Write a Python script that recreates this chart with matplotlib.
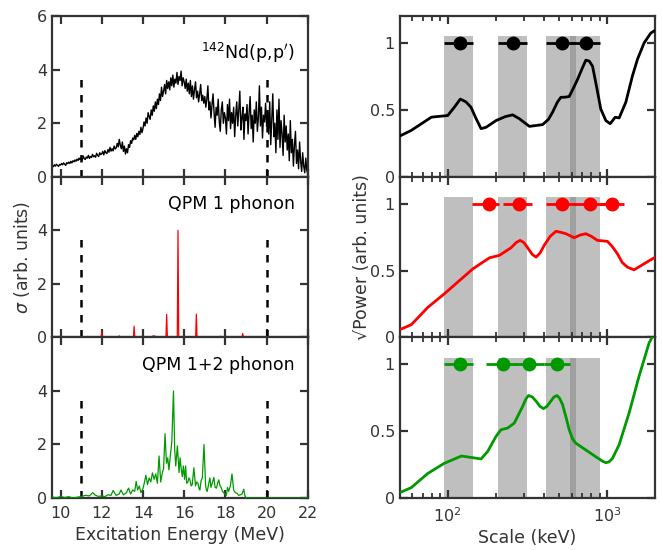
import numpy as np
import matplotlib
matplotlib.use('Agg')
from matplotlib import pyplot as plt

# %% data
# 142Nd(p,p') spectrum, 0.05 MeV steps from 9.6 MeV
nd_e0, nd_step = 9.6, 0.05
nd_counts = [
    0.42, 0.38, 0.45, 0.40, 0.47, 0.43, 0.39, 0.46,
    0.44, 0.50, 0.45, 0.52, 0.47, 0.43, 0.53, 0.49, 0.55, 0.50, 0.58, 0.52, 0.60, 0.56, 0.63, 0.58, 0.66, 0.61, 0.70, 0.64,
    0.72, 0.62, 0.78, 0.68, 0.65, 0.74, 0.70, 0.80, 0.69, 0.76, 0.72, 0.84, 0.75, 0.79, 0.73, 0.88, 0.80, 0.76, 0.90, 0.83,
    0.86, 0.95, 0.82, 0.98, 0.90, 0.87, 1.02, 0.92, 1.10, 0.96, 1.05, 0.97, 1.15, 1.04, 1.08, 1.25, 1.12, 1.40, 1.18, 1.05,
    1.30, 0.95, 1.15, 0.85, 1.05, 0.90, 1.20, 1.10, 1.35, 1.25, 1.45, 1.38, 1.55, 1.40, 1.62, 1.50, 1.70, 1.58, 1.85, 1.65,
    1.80, 2.05, 1.90, 2.20, 2.00, 2.40, 2.25, 2.15, 2.50, 2.30, 2.65, 2.45, 2.80, 2.55, 2.90, 2.70, 3.10, 2.85, 3.35, 3.00,
    3.20, 3.45, 3.10, 3.60, 3.30, 3.55, 3.25, 3.70, 3.40, 3.80, 3.35, 3.65, 3.50, 3.90, 3.45, 3.75, 3.60, 3.95, 3.40, 3.70,
    3.55, 3.30, 3.65, 3.20, 3.50, 3.10, 3.60, 3.00, 3.40, 2.90, 3.25, 3.55, 2.95, 3.20, 2.80, 3.10, 3.45, 2.85, 3.05, 2.75,
    3.00, 2.60, 2.90, 3.40, 2.50, 2.80, 2.20, 2.70, 3.10, 2.40, 1.85, 2.60, 2.30, 2.90, 2.10, 1.70, 2.50, 2.80, 2.00, 2.40,
    2.20, 1.60, 2.70, 2.10, 2.90, 1.80, 2.40, 2.00, 2.60, 1.50, 2.30, 2.80, 1.90, 2.50, 3.20, 1.75, 2.20, 2.60, 1.40, 2.35,
    2.10, 2.70, 1.60, 2.40, 3.00, 1.80, 2.30, 1.30, 2.50, 2.00, 2.80, 1.70, 2.20, 3.40, 1.90, 2.60, 1.45, 2.30, 2.05, 2.75,
    1.90, 2.40, 1.60, 2.80, 1.20, 2.20, 3.10, 1.50, 2.00, 0.90, 2.50, 1.40, 2.90, 1.10, 2.10, 1.60, 0.80, 2.30, 1.30, 1.90,
    1.00, 1.60, 0.60, 2.10, 0.90, 1.40, 0.40, 1.20, 1.70, 0.50, 1.00, 0.30, 1.30, 0.60, 0.20, 0.90, 0.40, 0.15, 0.70, 0.25,
    0.10,
]
nd_energy = nd_e0 + nd_step * np.arange(len(nd_counts))

# QPM 1 phonon: discrete states
qpm1_energy = [12.0, 12.85, 13.57, 14.50, 14.58, 15.15, 15.70, 16.59, 17.76, 18.84]
qpm1_sigma = [0.20, 0.06, 0.42, 0.07, 0.06, 0.86, 4.00, 0.87, 0.05, 0.15]

# QPM 1+2 phonon
qpm12_energy = [9.6, 9.8, 10.0, 10.2, 10.4, 10.6, 10.8, 11.0, 11.2, 11.4, 11.56, 11.7, 11.85, 12.0,
                12.15, 12.3, 12.45, 12.55, 12.7, 12.85, 12.93, 13.05, 13.2, 13.3, 13.4, 13.5, 13.6,
                13.67, 13.74, 13.82, 13.9, 14.0, 14.06, 14.14, 14.22, 14.3, 14.38, 14.46, 14.54, 14.62,
                14.7, 14.78, 14.86, 14.94, 15.0, 15.07, 15.14, 15.2, 15.26, 15.33, 15.40, 15.48, 15.54,
                15.59, 15.67, 15.75, 15.8, 15.86, 15.91, 15.96, 16.02, 16.07, 16.12, 16.18, 16.23, 16.28,
                16.34, 16.39, 16.47, 16.55, 16.61, 16.67, 16.72, 16.76, 16.82, 16.88, 16.96, 17.04, 17.08,
                17.12, 17.18, 17.25, 17.30, 17.36, 17.44, 17.5, 17.57, 17.62, 17.68, 17.74, 17.79, 17.86,
                17.92, 17.98, 18.05, 18.10, 18.16, 18.24, 18.32, 18.40, 18.48, 18.56, 18.64, 18.73, 18.81,
                18.89, 18.95, 19.01, 19.5, 20.0, 21.0, 22.0]
qpm12_sigma = [0.04, 0.0, 0.06, 0.02, 0.05, 0.0, 0.03, 0.05, 0.1, 0.08, 0.2, 0.1, 0.06, 0.08,
               0.05, 0.12, 0.1, 0.28, 0.1, 0.15, 0.3, 0.12, 0.2, 0.37, 0.15, 0.3, 0.25,
               0.62, 0.3, 0.45, 0.2, 0.35, 0.55, 0.85, 0.5, 0.75, 0.6, 0.94, 0.7, 0.9,
               0.55, 1.57, 0.6, 0.95, 1.1, 2.4, 1.3, 1.5, 1.05, 1.6, 2.1, 4.0, 1.8,
               1.2, 1.95, 0.95, 1.5, 1.06, 0.8, 1.2, 0.7, 1.2, 0.55, 0.6, 0.75, 0.68,
               0.45, 0.5, 1.13, 0.45, 0.6, 0.55, 0.35, 0.3, 0.65, 0.75, 2.0, 0.45, 0.3,
               0.25, 0.5, 0.75, 0.4, 0.55, 0.77, 0.4, 0.37, 0.55, 0.68, 0.45, 0.4, 0.25,
               0.2, 0.15, 0.1, 0.4, 0.25, 0.45, 0.9, 0.3, 0.2, 0.18, 0.1, 0.12, 0.15,
               0.33, 0.08, 0.0, 0.0, 0.0, 0.0, 0.0]

# wavelet power spectra
exp_scale = [51, 59, 79, 100, 110, 120, 130, 140, 150, 162, 174, 201, 230, 256, 282, 326, 395,
             430, 456, 490, 514, 545, 580, 615, 655, 700, 738, 775, 813, 860, 916, 986, 1050,
             1128, 1195, 1316, 1448, 1557, 1714, 1889, 1982]
exp_power = [0.31, 0.347, 0.446, 0.458, 0.52, 0.581, 0.56, 0.52, 0.44, 0.36, 0.37, 0.42, 0.45,
             0.463, 0.434, 0.377, 0.39, 0.43, 0.483, 0.56, 0.594, 0.595, 0.60, 0.66, 0.729, 0.81,
             0.872, 0.865, 0.827, 0.68, 0.507, 0.42, 0.397, 0.445, 0.44, 0.557, 0.753, 0.877,
             1.0, 1.074, 1.09]

qpm1_scale = [51, 59, 75, 95, 144, 183, 211, 250, 270, 285, 300, 318, 340, 359, 380, 404, 440,
              479, 515, 553, 623, 680, 738, 800, 873, 1009, 1080, 1166, 1250, 1347, 1483, 1714,
              1982]
qpm1_power = [0.063, 0.095, 0.225, 0.325, 0.513, 0.595, 0.613, 0.67, 0.71, 0.725, 0.71, 0.67,
              0.62, 0.60, 0.63, 0.688, 0.755, 0.793, 0.785, 0.775, 0.745, 0.765, 0.775, 0.755,
              0.725, 0.718, 0.68, 0.625, 0.56, 0.525, 0.505, 0.55, 0.595]

qpm12_scale = [51, 59, 75, 95, 122, 162, 178, 201, 216, 238, 262, 296, 310, 322, 340, 359, 380,
               400, 420, 445, 465, 486, 505, 527, 555, 580, 610, 638, 738, 851, 940, 986, 1030,
               1084, 1194, 1381, 1596, 1845, 2050]
qpm12_power = [0.045, 0.078, 0.184, 0.259, 0.314, 0.292, 0.347, 0.46, 0.51, 0.523, 0.56, 0.686,
               0.74, 0.766, 0.755, 0.724, 0.685, 0.668, 0.685, 0.724, 0.755, 0.766, 0.745, 0.698,
               0.60, 0.51, 0.44, 0.41, 0.359, 0.309, 0.275, 0.264, 0.27, 0.295, 0.397, 0.636,
               0.912, 1.16, 1.26]

# characteristic scales (keV) with ranges
exp_pk = [120, 259, 526, 738]
exp_lo = [95, 206, 414, 586]
exp_hi = [145, 315, 638, 904]

qpm1_pk = [181, 282, 522, 786, 1084]
qpm1_lo = [142, 221, 414, 610, 900]
qpm1_hi = [211, 341, 640, 1000, 1282]

qpm12_pk = [120, 221, 322, 483]
qpm12_lo = [95, 174, 260, 400]
qpm12_hi = [145, 270, 400, 586]

# grey bands = experimental scale ranges
band_lo = exp_lo
band_hi = exp_hi

cut_lo, cut_hi, cut_top = 11, 20, 3.8

# %% figure
plt.rcParams.update({'font.family': 'DejaVu Sans', 'font.size': 12,
                     'axes.edgecolor': '#333333', 'axes.linewidth': 1.6,
                     'xtick.color': '#333333', 'ytick.color': '#333333',
                     'xtick.labelcolor': '#333333', 'ytick.labelcolor': '#333333',
                     'axes.labelcolor': '#333333'})

fig = plt.figure(figsize=(6.62, 5.5), dpi=100)
bottoms = [0.6785, 0.3865, 0.0945]
h = 0.292
axL = [fig.add_axes([0.079, b, 0.386, h]) for b in bottoms]
axR = [fig.add_axes([0.604, b, 0.385, h]) for b in bottoms]

GREEN = '#009a00'


def style(ax, log=False):
    ax.tick_params(which='major', direction='in', length=6, width=1.6,
                   top=True, right=True, labelsize=11.5)
    ax.tick_params(axis='x', which='major', pad=6)
    if log:
        ax.tick_params(which='minor', direction='in', length=3.5, width=1.3,
                       top=True, right=True)


# left column
axL[0].plot(nd_energy, nd_counts, color='k', lw=1.0)
e1 = []
s1 = []
for e, s in zip(qpm1_energy, qpm1_sigma):
    e1 += [e - 0.035, e, e + 0.035]
    s1 += [0, s, 0]
axL[1].plot(e1, s1, color='red', lw=0.9)
axL[2].plot(qpm12_energy, qpm12_sigma, color=GREEN, lw=0.9, zorder=3)

labels = ['$^{142}$Nd(p,p$^{\\prime}$)', 'QPM 1 phonon', 'QPM 1+2 phonon']
ypos = [0.77, 0.83, 0.826]
for i, ax in enumerate(axL):
    ax.vlines([cut_lo, cut_hi], 0, cut_top, colors='k', linestyles=(0, (3, 3)), lw=1.8)
    ax.set_xlim(9.6, 22)
    ax.set_ylim(0, 6)
    ax.set_xticks([10, 12, 14, 16, 18, 20, 22])
    ax.set_yticks([0, 2, 4, 6] if i == 0 else [0, 2, 4])
    ax.text(0.95, ypos[i], labels[i], transform=ax.transAxes, ha='right', va='center',
            fontsize=12.5, color='k')
    style(ax)
    if i < 2:
        ax.tick_params(labelbottom=False)
axL[1].set_ylabel(r'$\sigma$ (arb. units)', fontsize=12.5)
axL[2].set_xlabel('Excitation Energy (MeV)', fontsize=12.5, labelpad=3)

# right column
curves = [(exp_scale, exp_power, 'k', exp_pk, exp_lo, exp_hi),
          (qpm1_scale, qpm1_power, 'red', qpm1_pk, qpm1_lo, qpm1_hi),
          (qpm12_scale, qpm12_power, GREEN, qpm12_pk, qpm12_lo, qpm12_hi)]
for ax, (sc, pw, col, pk, lo, hi) in zip(axR, curves):
    for a, b in zip(band_lo, band_hi):
        ax.axvspan(a, b, ymin=0, ymax=1.05 / 1.2, color='gray', alpha=0.5, lw=0, zorder=1)
    ax.plot(sc, pw, color=col, lw=2, zorder=3)
    pk = np.array(pk)
    xerr = [pk - np.array(lo), np.array(hi) - pk]
    ax.errorbar(pk, np.ones(len(pk)), xerr=xerr, fmt='o', color=col, ms=9,
                lw=2, capsize=0, zorder=4)
    ax.set_xscale('log')
    ax.set_xlim(50, 2000)
    ax.set_ylim(0, 1.2)
    ax.set_yticks([0, 0.5, 1])
    ax.set_yticklabels(['0', '0.5', '1'])
    style(ax, log=True)
for ax in axR[:2]:
    ax.tick_params(which='both', labelbottom=False)
axR[1].set_ylabel('√Power (arb. units)', fontsize=12.5, labelpad=-1)
axR[2].set_xlabel('Scale (keV)', fontsize=12.5, labelpad=3)

fig.savefig('out.png', dpi=100)
